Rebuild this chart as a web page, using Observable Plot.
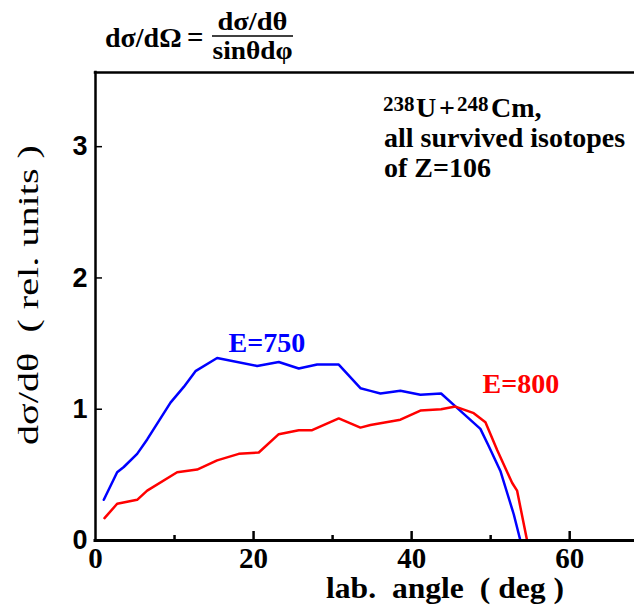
<!DOCTYPE html>
<html>
<head>
<meta charset="utf-8">
<script src="https://cdn.jsdelivr.net/npm/d3@7"></script>
<script src="https://cdn.jsdelivr.net/npm/@observablehq/plot@0.6"></script>
<style>
  body { margin: 0; background: #fff; }
  #chart svg { display: block; }
</style>
</head>
<body>
<div id="chart"></div>
<script>
// ---- data ----
const seriesNames = ["E=750", "E=800"];
const seriesColors = ["#0000ff", "#ff0000"];

const angle750 = [1.05, 2.74, 3.58, 5.27, 6.54, 9.49, 11.17, 12.65, 15.39, 20.45, 23.19, 25.72, 28.05, 30.78, 33.52, 34.79, 36.05, 38.58, 41.11, 43.73, 45.75, 48.7, 49.75, 51.23, 52.92, 53.76];
const dsig750  = [0.31, 0.52, 0.56, 0.66, 0.77, 1.05, 1.17, 1.29, 1.39, 1.33, 1.36, 1.31, 1.34, 1.34, 1.16, 1.14, 1.12, 1.14, 1.11, 1.12, 1.01, 0.85, 0.72, 0.53, 0.20, 0.0];

const angle800 = [1.14, 2.74, 5.27, 6.54, 10.33, 12.86, 15.39, 18.13, 20.66, 23.19, 25.72, 27.41, 30.78, 33.52, 34.79, 38.58, 41.11, 43.73, 45.54, 47.86, 49.34, 50.82, 52.71, 53.34, 54.61];
const dsig800  = [0.17, 0.28, 0.31, 0.38, 0.52, 0.54, 0.61, 0.66, 0.67, 0.81, 0.84, 0.84, 0.93, 0.86, 0.88, 0.92, 0.99, 1.00, 1.02, 0.97, 0.90, 0.69, 0.44, 0.38, 0.0];

const xTickLabels = [0, 20, 40, 60];
const xTicksMajor = [20, 40, 60];
const xTicksMinor = [10, 30, 50];
const yTickLabels = [0, 1, 2, 3];
const yTicks = [1, 2, 3];
const xDomain = [0, 68.2];
const yDomain = [0, 3.565];
const xLabel = "lab.  angle  ( deg )";
const yLabel = "dσ/dθ  ( rel. units )";

const rows = [
  ...angle750.map((a, i) => ({angle: a, value: dsig750[i], series: seriesNames[0]})),
  ...angle800.map((a, i) => ({angle: a, value: dsig800[i], series: seriesNames[1]}))
];

const serif = "Liberation Serif, DejaVu Serif, serif";
const sans = "Liberation Sans, Arial, sans-serif";

const chart = Plot.plot({
  width: 634,
  height: 606,
  marginLeft: 95,
  marginRight: 0,
  marginTop: 72,
  marginBottom: 66,
  x: {domain: xDomain, axis: null},
  y: {domain: yDomain, axis: null},
  color: {domain: seriesNames, range: seriesColors},
  marks: [
    Plot.line(rows, {x: "angle", y: "value", z: "series", stroke: "series", strokeWidth: 2.5, curve: "linear"}),
    Plot.ruleY([yDomain[0]], {stroke: "#000", strokeWidth: 3, insetLeft: -1.5}),
    Plot.ruleY([yDomain[1]], {stroke: "#000", strokeWidth: 2.5, insetLeft: -1.25}),
    Plot.ruleX([xDomain[0]], {stroke: "#000", strokeWidth: 2.5, insetTop: -1.25}),
    Plot.ruleX(xTicksMajor, {x: d => d, y1: () => 0, y2: () => 0, insetBottom: 9, stroke: "#000", strokeWidth: 2.5}),
    Plot.ruleX(xTicksMinor, {x: d => d, y1: () => 0, y2: () => 0, insetBottom: 5, stroke: "#000", strokeWidth: 2.5}),
    Plot.ruleY(yTicks, {y: d => d, x1: () => 0, x2: () => 0, insetRight: -7, stroke: "#000", strokeWidth: 1.5}),
    Plot.text(xTickLabels, {x: d => d, frameAnchor: "bottom", lineAnchor: "top", dy: 7,
      fontFamily: serif, fontWeight: "bold", fontSize: 29, fill: "#000"}),
    Plot.text(yTickLabels, {y: d => d, frameAnchor: "left", textAnchor: "end", lineAnchor: "middle", dx: -8,
      fontFamily: sans, fontWeight: "bold", fontSize: 27, fill: "#000"}),
    Plot.text([seriesNames[0]], {frameAnchor: "top-left", textAnchor: "start", lineAnchor: "bottom", dx: 133, dy: 279,
      fill: d => d, fontFamily: serif, fontWeight: "bold", fontSize: 28}),
    Plot.text([seriesNames[1]], {frameAnchor: "top-left", textAnchor: "start", lineAnchor: "bottom", dx: 387, dy: 320,
      fill: d => d, fontFamily: serif, fontWeight: "bold", fontSize: 28})
  ]
});

document.getElementById("chart").appendChild(chart);

// ---- axis titles, formula and annotation (text) ----
const svg = d3.select(chart);
const g = svg.append("g")
  .attr("font-family", serif).attr("font-weight", "bold")
  .attr("text-anchor", "start").attr("fill", "#000");

// axis titles
g.append("text").attr("x", 445).attr("y", 598).attr("font-size", 30)
  .attr("text-anchor", "middle").attr("textLength", 238).attr("lengthAdjust", "spacingAndGlyphs")
  .text(xLabel);
g.append("text").attr("transform", "translate(38,295) rotate(-90)").attr("font-size", 30)
  .attr("font-weight", "normal")
  .attr("text-anchor", "middle").attr("textLength", 300).attr("lengthAdjust", "spacingAndGlyphs")
  .text(yLabel);

// formula
g.append("text").attr("x", 105).attr("y", 47).attr("font-size", 28).text("dσ/dΩ");
g.append("text").attr("x", 187).attr("y", 47).attr("font-size", 29).text("=");
g.append("text").attr("x", 252.5).attr("y", 30).attr("font-size", 25).attr("text-anchor", "middle")
  .attr("textLength", 70).attr("lengthAdjust", "spacingAndGlyphs").text("dσ/dθ");
g.append("line").attr("x1", 212).attr("x2", 293).attr("y1", 36).attr("y2", 36).attr("stroke", "#000").attr("stroke-width", 1.6);
g.append("text").attr("x", 252.5).attr("y", 59).attr("font-size", 25).attr("text-anchor", "middle")
  .attr("textLength", 80).attr("lengthAdjust", "spacingAndGlyphs").text("sinθdφ");

// annotation
const line1 = g.append("text").attr("font-size", 28);
line1.append("tspan").attr("x", 383).attr("y", 111).attr("font-size", 21).text("238");
line1.append("tspan").attr("x", 416).attr("y", 117).text("U");
line1.append("tspan").attr("x", 439).attr("y", 117).text("+");
line1.append("tspan").attr("x", 457).attr("y", 111).attr("font-size", 21).text("248");
line1.append("tspan").attr("x", 491).attr("y", 117).text("Cm,");
g.append("text").attr("x", 384).attr("y", 147).attr("font-size", 28).text("all survived isotopes");
g.append("text").attr("x", 384).attr("y", 177).attr("font-size", 28).text("of Z=106");
</script>
</body>
</html>
